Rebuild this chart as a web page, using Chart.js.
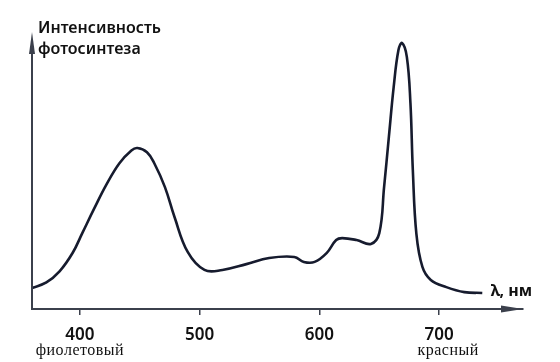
<!DOCTYPE html>
<html>
<head>
<meta charset="utf-8">
<script src="https://cdn.jsdelivr.net/npm/chart.js@4/dist/chart.umd.min.js"></script>
<style>
  html, body { margin: 0; padding: 0; background: #fff; }
  #wrap { width: 560px; height: 362px; }
</style>
</head>
<body>
<div id="wrap"><canvas id="photoChart" width="560" height="362"></canvas></div>
<script>
// wavelength, nm
const wavelengths = [360, 372, 383, 394, 402, 412, 422, 433, 443, 448, 456, 462, 471, 479, 490, 504,
    519, 539, 558, 579, 587, 596, 606, 614, 619, 631, 643, 650, 654, 658, 662, 666, 669,
    673, 676, 678, 681, 686, 693, 706, 721, 736];
// photosynthesis intensity, relative units
const intensity = [7.6, 9.6, 13.6, 20.3, 27.4, 36.3, 44.8, 52.6, 57.2, 58.1, 56.6, 52.7, 44.0, 33.2, 20.6, 14.1,
    14.1, 16.2, 18.4, 18.8, 17.0, 17.0, 20.2, 24.9, 25.6, 24.9, 23.5, 27.4, 44.0, 62.1, 80.1, 93.5, 96.0,
    91.0, 74.4, 50.2, 27.0, 15.2, 10.5, 7.9, 6.1, 5.8];
const tickValues = [400, 500, 600, 700];
const colourNames = { 400: 'фиолетовый', 700: 'красный' };
const yTitle = ['Интенсивность', 'фотосинтеза'];
const xTitle = 'λ, нм';

const ink = '#161b2e';
const axisInk = '#3b404c';

const sketchAxes = {
    id: 'sketchAxes',
    afterDraw(chart) {
        const ctx = chart.ctx;
        const area = chart.chartArea;
        const x = chart.scales.x;
        ctx.save();
        // y axis with arrow
        ctx.strokeStyle = axisInk;
        ctx.fillStyle = axisInk;
        ctx.lineWidth = 2;
        ctx.beginPath();
        ctx.moveTo(area.left, area.bottom);
        ctx.lineTo(area.left, area.top + 10);
        ctx.stroke();
        ctx.beginPath();
        ctx.moveTo(area.left, area.top);
        ctx.lineTo(area.left - 3, area.top + 22);
        ctx.lineTo(area.left + 3, area.top + 22);
        ctx.closePath();
        ctx.fill();
        // x axis arrow head
        ctx.beginPath();
        ctx.moveTo(area.right, area.bottom);
        ctx.lineTo(area.right - 22, area.bottom - 3.5);
        ctx.lineTo(area.right - 22, area.bottom + 3.5);
        ctx.closePath();
        ctx.fill();

        // axis titles
        ctx.fillStyle = '#111';
        ctx.font = '600 16px "Noto Sans"';
        ctx.textBaseline = 'alphabetic';
        ctx.textAlign = 'left';
        ctx.fillText(yTitle[0], area.left + 6, 33);
        ctx.fillText(yTitle[1], area.left + 6, 54);
        ctx.font = 'bold 16px "Noto Sans"';
        ctx.fillText(xTitle, x.getPixelForValue(743), area.bottom - 13);

        // colour names under ticks
        ctx.font = '16px "Liberation Serif"';
        ctx.textAlign = 'center';
        ctx.letterSpacing = '0.5px';
        const shift = { 400: 0, 700: 9 };
        Object.keys(colourNames).forEach(v => {
            ctx.fillText(colourNames[v], x.getPixelForValue(Number(v)) + shift[v], 355);
        });
        ctx.restore();
    }
};

new Chart(document.getElementById('photoChart'), {
    type: 'line',
    data: {
        datasets: [{
            data: wavelengths.map((w, i) => ({ x: w, y: intensity[i] })),
            borderColor: ink,
            borderWidth: 2.6,
            pointRadius: 0,
            fill: false,
            tension: 0.4
        }]
    },
    options: {
        responsive: false,
        animation: false,
        layout: { padding: { left: 32, right: 37, top: 32, bottom: 0 } },
        plugins: { legend: { display: false }, tooltip: { enabled: false }, title: { display: false } },
        scales: {
            x: {
                type: 'linear',
                min: 360,
                max: 770,
                afterBuildTicks(scale) { scale.ticks = tickValues.map(v => ({ value: v })); },
                afterFit(scale) { scale.height = 53; },
                grid: { drawOnChartArea: false, drawTicks: true, tickLength: 6, color: axisInk, lineWidth: 1.5 },
                border: { display: true, color: axisInk, width: 2 },
                ticks: {
                    color: '#111',
                    font: { family: 'Noto Sans', size: 17, weight: '600' },
                    padding: 10,
                    maxRotation: 0,
                    autoSkip: false
                }
            },
            y: {
                display: false,
                min: 0,
                max: 100
            }
        }
    },
    plugins: [sketchAxes]
});
</script>
</body>
</html>
